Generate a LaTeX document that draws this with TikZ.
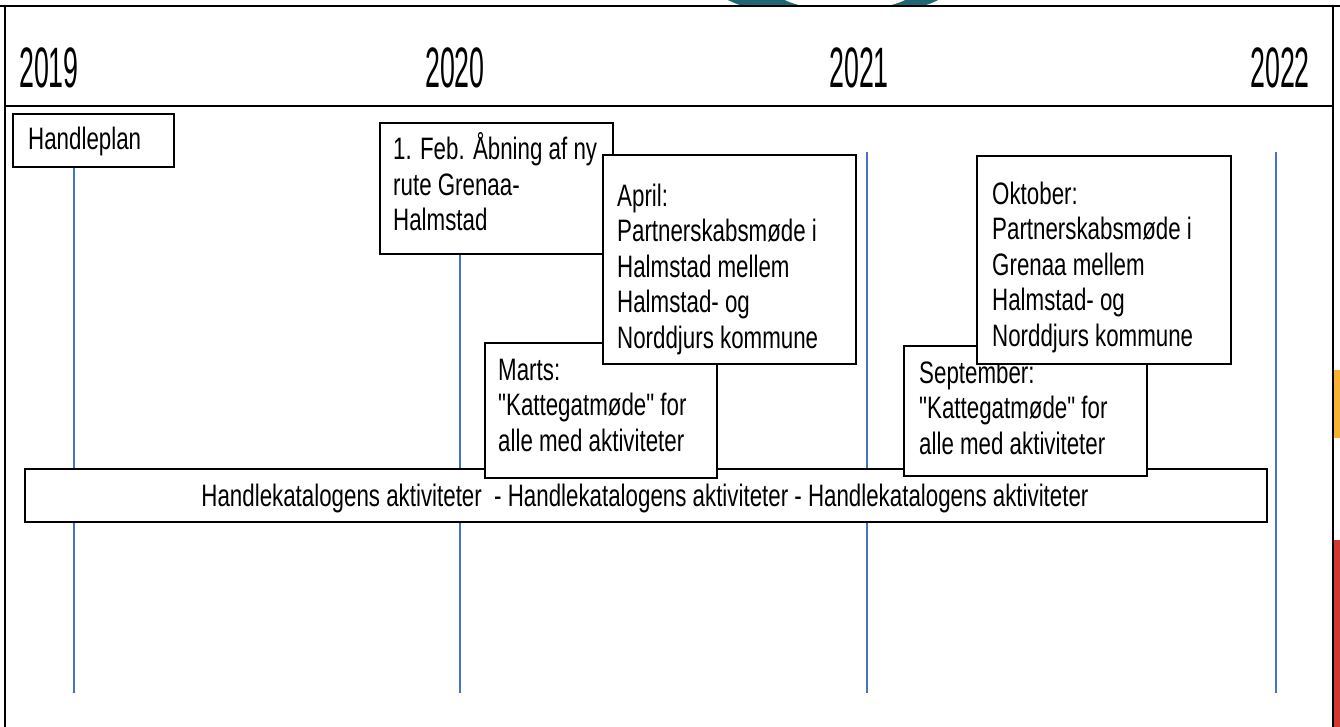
\documentclass[tikz,border=0pt]{standalone}
\usepackage{fontspec}
\newfontfamily\bodyfont[FakeStretch=0.72]{Liberation Sans}
\newfontfamily\yearfont[FakeStretch=0.47]{Liberation Sans}
\definecolor{tickblue}{RGB}{68,114,196}
\definecolor{logoteal}{RGB}{31,104,115}
\definecolor{edgeorange}{RGB}{246,179,51}
\definecolor{edgered}{RGB}{208,58,51}
\begin{document}
\begin{tikzpicture}[x=1pt,y=-1pt,
  box/.style={draw=black, line width=1.8pt, fill=white, inner sep=0pt, anchor=north west},
  txt/.style={anchor=base west, inner sep=0pt, align=left, font=\bodyfont\fontsize{31}{35.5}\selectfont},
  yearlbl/.style={inner sep=0pt, font=\yearfont\fontsize{57}{60}\selectfont},
  tick/.style={draw=tickblue, line width=1.3pt},
  frame/.style={draw=black, line width=2pt}]
\useasboundingbox (0,0) rectangle (1340,727);
% background fragments
\begin{scope}
  \clip (700,0) rectangle (960,6);
  \fill[logoteal] (833,-16.4) ellipse [x radius=120pt, y radius=34pt];
  \fill[white] (845,-10.8) ellipse [x radius=70pt, y radius=21pt];
\end{scope}
\fill[edgeorange] (1334,370) rectangle (1340,438);
\fill[edgered] (1334,540) rectangle (1340,727);
% frame
\draw[frame, line width=2.4pt] (0,6) -- (1340,6);
\draw[frame] (5,6) -- (5,727);
\draw[frame] (1333,6) -- (1333,727);
\draw[frame, line width=2.4pt] (5,106) -- (1333,106);
% years
\node[yearlbl, anchor=base west] (y2019) at (19,88) {2019};
\node[yearlbl, anchor=base west] (y2020) at (425,88) {2020};
\node[yearlbl, anchor=base west] (y2021) at (829,88) {2021};
\node[yearlbl, anchor=base east] (y2022) at (1310,88) {2022};
% ticks
\coordinate (t1a) at (74,152);  \coordinate (t1b) at (74,693);
\coordinate (t2a) at (460,152); \coordinate (t2b) at (460,693);
\coordinate (t3a) at (867,152); \coordinate (t3b) at (867,693);
\coordinate (t4a) at (1276,152); \coordinate (t4b) at (1276,693);
\draw[tick] (t1a) -- (t1b);
\draw[tick] (t2a) -- (t2b);
\draw[tick] (t3a) -- (t3b);
\draw[tick] (t4a) -- (t4b);
% activity bar
\node[box, minimum width=1242, minimum height=53] (bar) at (24,468) {};
\node[inner sep=0pt, anchor=base, font=\bodyfont\fontsize{31}{35.5}\selectfont] (bartxt) at (645,506)
  {Handlekatalogens aktiviteter\ \ - Handlekatalogens aktiviteter - Handlekatalogens aktiviteter};
% Marts (anchor = baseline of last line)
\node[box, minimum width=232, minimum height=135] (marts) at (484,342) {};
\node[txt] (martstxt) at (498,451) {Marts:\\"Kattegatmøde" for\\alle med aktiviteter};
% September
\node[box, minimum width=243, minimum height=130] (sept) at (903,345) {};
\node[txt] (septtxt) at (919,454) {September:\\"Kattegatmøde" for\\alle med aktiviteter};
% Feb
\node[box, minimum width=233, minimum height=131] (feb) at (379,122) {};
\node[txt] (febtxt) at (393,231) {1. Feb. Åbning af ny\\rute Grenaa-\\Halmstad};
% April
\node[box, minimum width=253, minimum height=209] (april) at (602,154) {};
\node[txt] (apriltxt) at (617,348) {April:\\Partnerskabsmøde i\\Halmstad mellem\\Halmstad- og\\Norddjurs kommune};
% Oktober
\node[box, minimum width=254, minimum height=208] (okt) at (976,155) {};
\node[txt] (okttxt) at (992,346) {Oktober:\\Partnerskabsmøde i\\Grenaa mellem\\Halmstad- og\\Norddjurs kommune};
% Handleplan
\node[box, minimum width=161, minimum height=53] (plan) at (12,113) {};
\node[txt] (plantxt) at (28,150) {Handleplan};
\end{tikzpicture}
\end{document}
